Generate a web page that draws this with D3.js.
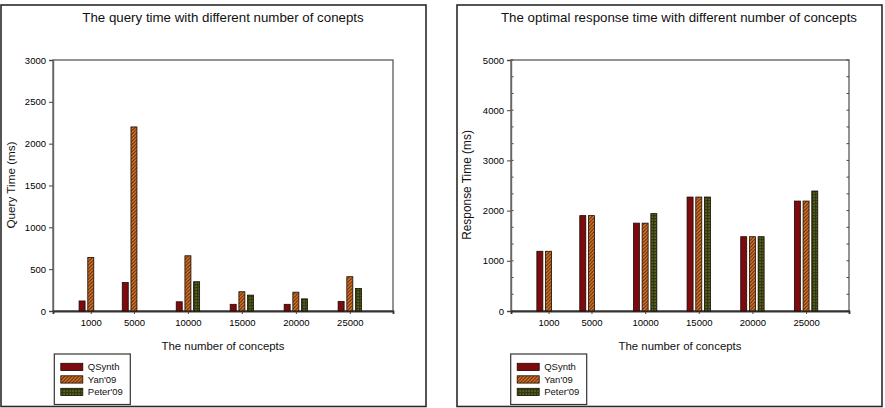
<!DOCTYPE html>
<html><head><meta charset="utf-8">
<script src="https://cdn.jsdelivr.net/npm/d3@7"></script>
<style>
html,body{margin:0;padding:0;background:#fff;}
svg{display:block;font-family:"Liberation Sans",Arial,sans-serif;}
</style></head>
<body><svg id="chart" width="885" height="408"></svg>
<script>
// ---- data ----
const categories = [1000, 5000, 10000, 15000, 20000, 25000];
const seriesNames = ["QSynth", "Yan'09", "Peter'09"];
const queryQSynth = [120, 340, 110, 80, 80, 115];
const queryYan    = [640, 2200, 660, 230, 225, 410];
const queryPeter  = [0, 0, 350, 190, 145, 270];
const respQSynth  = [1190, 1900, 1750, 2270, 1480, 2190];
const respYan     = [1190, 1900, 1750, 2270, 1480, 2190];
const respPeter   = [0, 0, 1940, 2270, 1480, 2390];
const queryTicks = [0, 500, 1000, 1500, 2000, 2500, 3000];
const respTicks  = [0, 1000, 2000, 3000, 4000, 5000];

const svg = d3.select("#chart");
const defs = svg.append("defs");
// hatch pattern for Yan'09
const ph = defs.append("pattern").attr("id","hatch").attr("patternUnits","userSpaceOnUse")
  .attr("width",3.5).attr("height",3.5);
ph.append("rect").attr("width",3.5).attr("height",3.5).attr("fill","#e07a2c");
ph.append("path").attr("d","M-1,1 l2,-2 M0,3.5 l3.5,-3.5 M2.5,4.5 l2,-2")
  .attr("stroke","#4a2008").attr("stroke-width",1.0);
// dotted pattern for Peter'09
const pd = defs.append("pattern").attr("id","dots").attr("patternUnits","userSpaceOnUse")
  .attr("width",3).attr("height",3);
pd.append("rect").attr("width",3).attr("height",3).attr("fill","#2f3a0e");
pd.append("rect").attr("x",0.5).attr("y",0.5).attr("width",1.2).attr("height",1.2).attr("fill","#8f8c3c");
const fills = ["#7c0a0e", "url(#hatch)", "url(#dots)"];

function panel(cfg) {
  const g = svg.append("g");
  // outer frame
  g.append("rect").attr("x",cfg.frame[0]).attr("y",cfg.frame[1])
    .attr("width",cfg.frame[2]).attr("height",cfg.frame[3])
    .attr("fill","none").attr("stroke","#2a2a2a").attr("stroke-width",1.6);
  const x = d3.scaleLinear().domain([-2500, 29000]).range([cfg.left, cfg.right]);
  const y = d3.scaleLinear().domain([0, cfg.ymax]).range([cfg.bottom, cfg.top]);
  // plot box
  g.append("rect").attr("x",cfg.left).attr("y",cfg.top)
    .attr("width",cfg.right-cfg.left).attr("height",cfg.bottom-cfg.top)
    .attr("fill","none").attr("stroke","#666").attr("stroke-width",1.4);
  // minor ticks
  if (cfg.minor) {
    const m = d3.range(0, cfg.ymax + 1, 1000/3);
    g.selectAll(".mnl").data(m).enter().append("line")
      .attr("x1",cfg.left).attr("x2",cfg.left+2.5)
      .attr("y1",d=>y(d)).attr("y2",d=>y(d)).attr("stroke","#444").attr("stroke-width",1);
    g.selectAll(".mnr").data(m).enter().append("line")
      .attr("x1",cfg.right).attr("x2",cfg.right-2.5)
      .attr("y1",d=>y(d)).attr("y2",d=>y(d)).attr("stroke","#444").attr("stroke-width",1);
  }
  // y axis
  const ya = g.append("g").attr("transform",`translate(${cfg.left},0)`)
    .call(d3.axisLeft(y).tickValues(cfg.ticks).tickSize(4).tickPadding(3).tickFormat(d3.format("d")));
  ya.select(".domain").attr("stroke","#666").attr("stroke-width",1.4);
  ya.selectAll(".tick line").attr("stroke","#444");
  ya.selectAll("text").attr("font-size","9.5px").attr("fill","#000").attr("font-family","Liberation Sans, Arial, sans-serif");
  // x axis
  const xa = g.append("g").attr("transform",`translate(0,${cfg.bottom})`)
    .call(d3.axisBottom(x).tickValues(categories).tickSize(3).tickPadding(5).tickFormat(d3.format("d")));
  xa.select(".domain").attr("stroke","#333").attr("stroke-width",1.8);
  xa.selectAll(".tick line").attr("stroke","#444");
  xa.selectAll("text").attr("font-size","9.5px").attr("fill","#000").attr("font-family","Liberation Sans, Arial, sans-serif");
  // bars
  const bw = 6, pitch = 8.7;
  cfg.series.forEach((vals, si) => {
    g.selectAll(".b"+si).data(vals.map((v,i)=>({v, c:categories[i]})).filter(d=>d.v>0))
      .enter().append("rect")
      .attr("x", d => x(d.c) + (si-1)*pitch - bw/2)
      .attr("y", d => y(d.v))
      .attr("width", bw)
      .attr("height", d => y(0) - y(d.v))
      .attr("fill", fills[si]).attr("stroke","#1a0a00").attr("stroke-width",0.8);
  });
  // titles
  g.append("text").attr("x",cfg.titleX).attr("y",22).attr("text-anchor","middle")
    .attr("font-size","13.3px").attr("fill","#111").text(cfg.title);
  g.append("text").attr("x",(cfg.left+cfg.right)/2).attr("y",350).attr("text-anchor","middle")
    .attr("font-size","11.4px").attr("fill","#111").text("The number of concepts");
  g.append("text").attr("transform",`translate(${cfg.ylabX},${185}) rotate(-90)`)
    .attr("text-anchor","middle").attr("font-size",cfg.ylabSize).attr("fill","#111").text(cfg.ylab);
  // legend
  const lg = g.append("g");
  lg.append("rect").attr("x",cfg.legX).attr("y",354).attr("width",76).attr("height",50.5)
    .attr("fill","#fff").attr("stroke","#333").attr("stroke-width",1.2);
  seriesNames.forEach((n,i)=>{
    const yy = 363.3 + i*12.5;
    lg.append("rect").attr("x",cfg.legX+6.5).attr("y",yy).attr("width",22).attr("height",7.3)
      .attr("fill",fills[i]).attr("stroke","#1a0a00").attr("stroke-width",0.8);
    lg.append("text").attr("x",cfg.legX+33.5).attr("y",yy+7).attr("font-size","9.5px")
      .attr("fill","#111").text(n);
  });
}

panel({frame:[1,5,425,401.5], left:53, right:393, top:60, bottom:311, ymax:3000,
  ticks:queryTicks, minor:false, series:[queryQSynth, queryYan, queryPeter],
  title:"The query time with different number of conepts", titleX:223,
  ylab:"Query Time (ms)", ylabX:15, ylabSize:"11.7px", legX:54.3});
panel({frame:[457,5,425,401.5], left:511, right:849, top:60, bottom:311, ymax:5000,
  ticks:respTicks, minor:true, series:[respQSynth, respYan, respPeter],
  title:"The optimal response time with different number of concepts", titleX:679,
  ylab:"Response Time (ms)", ylabX:470.5, ylabSize:"11.9px", legX:510.7});
</script></body></html>
